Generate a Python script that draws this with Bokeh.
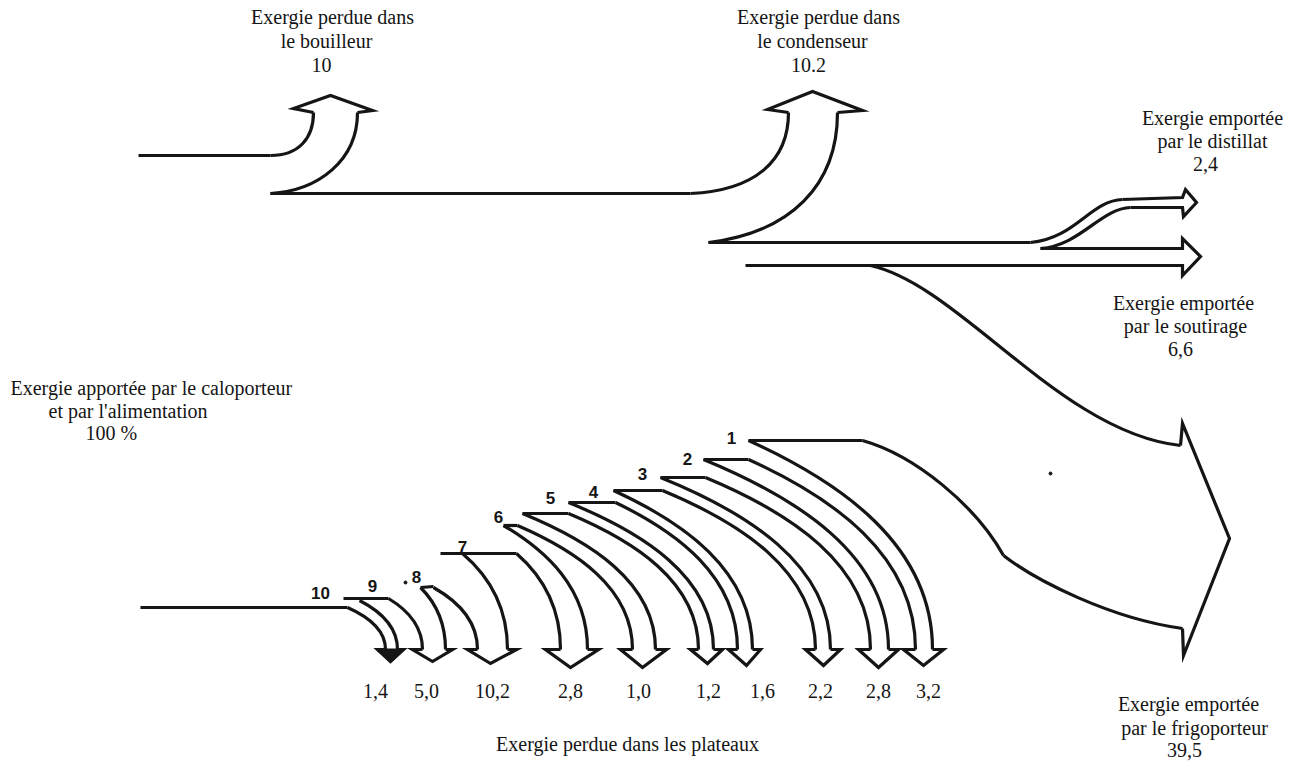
import numpy as np
from bokeh.plotting import figure
from bokeh.models import Range1d, ColumnDataSource
from bokeh.embed import file_html
from bokeh.resources import INLINE
from bokeh.core.properties import value

# ------------------------------------------------------------------ DATA
plate_numbers = ["10", "9", "8", "7", "6", "5", "4", "3", "2", "1"]
plate_losses = ["1,4", "5,0", "10,2", "2,8", "1,0", "1,2", "1,6", "2,2", "2,8", "3,2"]
input_text = ["Exergie apportée par le caloporteur", "et par l'alimentation", "100 %"]
boiler_text = ["Exergie perdue dans", "le bouilleur", "10"]
condenser_text = ["Exergie perdue dans", "le condenseur", "10.2"]
distillate_text = ["Exergie emportée", "par le distillat", "2,4"]
drawoff_text = ["Exergie emportée", "par le soutirage", "6,6"]
refrig_text = ["Exergie emportée", "par le frigoporteur", "39,5"]
plates_text = ["Exergie perdue dans les plateaux"]

# ------------------------------------------------------------------ LAYOUT (page pixels)
INK = "#151515"
LW = 3.2
SERIF = value("Liberation Serif")
SANS = value("Liberation Sans")
FS = "20px"

W, H = 1309, 761
p = figure(width=W, height=H, x_range=Range1d(0, W), y_range=Range1d(H, 0),
           output_backend="svg", toolbar_location=None, min_border=0,
           x_axis_type=None, y_axis_type=None, tools="")
p.outline_line_color = None
p.background_fill_color = "white"
p.border_fill_color = "white"

# main-stream curves: (start, ctrl0, ctrl1, end)
main_curves = [
    ((270, 155), (298, 155), (313, 138), (313, 112)),   # boiler inner
    ((270, 193), (318, 190), (357, 160), (357, 112)),   # boiler outer
    ((690, 193), (755, 190), (788, 160), (788, 112)),   # condenser inner
    ((708, 242), (790, 232), (837, 185), (837, 112)),   # condenser outer
    ((1030, 242), (1075, 238), (1090, 200), (1122, 199)),  # distillate top
    ((1040, 248), (1080, 245), (1100, 208), (1130, 207)),  # distillate bottom
    ((870, 265), (960, 285), (1060, 432), (1180, 445)),    # refrigerant top
    ((862, 440), (915, 455), (975, 505), (1003, 555)),     # refrigerant bottom a
    ((1003, 555), (1035, 580), (1110, 618), (1182, 628)),  # refrigerant bottom b
]
main_polylines = [
    [(138, 155), (270, 155)],
    [(270, 193), (690, 193)],
    [(313, 112), (293, 108), (330, 95), (372, 110), (357, 112)],
    [(788, 112), (767, 109), (812, 91), (862, 110), (837, 112)],
    [(708, 242), (1030, 242)],
    [(1122, 199), (1182, 197), (1185, 189), (1196, 202), (1183, 216), (1182, 207), (1130, 207)],
    [(1040, 248), (1182, 248), (1182, 238), (1200, 256), (1182, 275), (1182, 265), (745, 265)],
    [(1180, 445), (1182, 423), (1229, 538), (1183, 655), (1182, 628)],
]

# plate staircase (bottom edge of the stream)
plate_lines = [[(140, 607), (347, 607)], [(343, 598), (388, 598)], [(420, 587), (433, 586)],
               [(440, 553), (516, 553)], [(503, 525), (517, 525)], [(522, 513), (568, 513)],
               [(568, 502), (615, 502)], [(613, 490), (662, 490)], [(660, 477), (705, 477)],
               [(703, 459), (748, 459)], [(748, 440), (862, 440)]]
num_pos = [(320, 592), (372, 585), (416, 576), (462, 546), (498, 516), (550, 497),
           (593, 491), (642, 473), (687, 458), (731, 437)]
arrow_L = [(347, 607), (388, 598), (433, 587), (516, 553), (517, 525), (568, 513),
           (615, 502), (662, 490), (705, 477), (748, 459)]
arrow_R = [(359, 600), (420, 587), (462, 553), (503, 525), (522, 513), (568, 502),
           (613, 490), (660, 477), (703, 459), (748, 440)]
shaft = [(385, 397), (422, 445), (477, 507), (560, 587), (632, 655), (698, 713),
         (737, 752), (815, 830), (870, 888), (915, 932)]
corner = [(377, 403), (412, 452), (467, 516), (545, 598), (620, 666), (690, 722),
          (728, 760), (805, 840), (858, 898), (903, 943)]
tip = [(390, 661), (432, 661), (490, 663), (570, 667), (642, 667), (707, 663),
       (746, 665), (823, 665), (878, 667), (923, 665)]
SHAFT_Y = 649
loss_x = [375, 426, 492, 570, 638, 708, 762, 820, 878, 928]
LOSS_Y = 690


def ctrl(s, e, a=0.5, b=0.2, c=0.5):
    return (s[0] + a * (e[0] - s[0]), s[1] + b * (e[1] - s[1])), (e[0], e[1] - c * (e[1] - s[1]))


curves = list(main_curves)
polylines = list(main_polylines) + plate_lines
for i in range(len(plate_losses)):
    eL = (shaft[i][0], SHAFT_Y)
    eR = (shaft[i][1], SHAFT_Y)
    cL0, cL1 = ctrl(arrow_L[i], eL)
    cR0, cR1 = ctrl(arrow_R[i], eR)
    curves.append((arrow_L[i], cL0, cL1, eL))
    curves.append((arrow_R[i], cR0, cR1, eR))
    head = [eL, (corner[i][0], SHAFT_Y), tip[i], (corner[i][1], SHAFT_Y), eR]
    polylines.append(head)
    if i == 0:  # the first plate arrow has a solid head
        p.patch([q[0] for q in head], [q[1] for q in head], fill_color=INK, line_color=INK, line_width=2)

src = ColumnDataSource(dict(
    x0=[c[0][0] for c in curves], y0=[c[0][1] for c in curves],
    cx0=[c[1][0] for c in curves], cy0=[c[1][1] for c in curves],
    cx1=[c[2][0] for c in curves], cy1=[c[2][1] for c in curves],
    x1=[c[3][0] for c in curves], y1=[c[3][1] for c in curves]))
p.bezier(x0="x0", y0="y0", x1="x1", y1="y1", cx0="cx0", cy0="cy0", cx1="cx1", cy1="cy1",
         source=src, line_color=INK, line_width=LW)
p.multi_line(xs=[[q[0] for q in pl] for pl in polylines], ys=[[q[1] for q in pl] for pl in polylines],
             line_color=INK, line_width=LW, line_join="miter")

# scan specks
p.scatter(x=[1050, 405], y=[473, 582], size=3, color=INK)


def label(xs, ys, texts, font=SERIF, size=FS, style="normal", align="center"):
    p.text(x=xs, y=ys, text=texts, text_font=font, text_font_size=size, text_font_style=style,
           text_align=align, text_baseline="middle", text_color=INK)


label([332, 326, 321], [16, 40, 64], boiler_text)
label([818, 812, 808], [16, 40, 64], condenser_text)
label([1212, 1212, 1205], [117, 140, 163], distillate_text)
label([1183, 1185, 1180], [302, 325, 348], drawoff_text)
label([1188, 1194, 1184], [703, 727, 749], refrig_text)
label([10, 48, 85], [387, 410, 432], input_text, align="left")
label([627], [743], plates_text)
label(loss_x, [LOSS_Y] * len(loss_x), plate_losses)
label([q[0] for q in num_pos], [q[1] for q in num_pos], plate_numbers, font=SANS, size="17px", style="bold")

open("out.html", "w").write(file_html(p, INLINE))
